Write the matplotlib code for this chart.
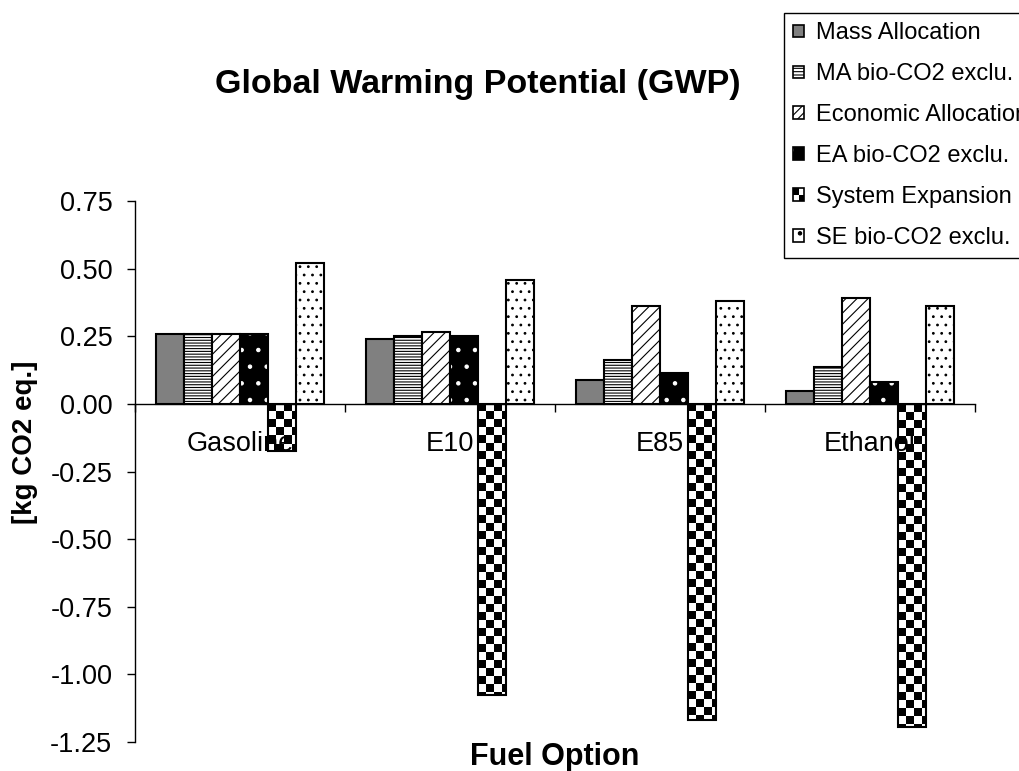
import numpy as np
import matplotlib
matplotlib.use('Agg')
import matplotlib.pyplot as plt
from matplotlib.patches import Patch, Rectangle
from matplotlib.legend_handler import HandlerBase

plt.rcParams['font.family'] = ['Liberation Sans', 'DejaVu Sans']
plt.rcParams['hatch.linewidth'] = 0.8

fuels = ['Gasoline', 'E10', 'E85', 'Ethanol']
mass_alloc = [0.257, 0.240, 0.089, 0.049]
ma_bio = [0.257, 0.250, 0.163, 0.138]
econ_alloc = [0.257, 0.265, 0.360, 0.390]
ea_bio = [0.257, 0.250, 0.113, 0.082]
sys_exp = [-0.175, -1.076, -1.170, -1.194]
se_bio = [0.520, 0.458, 0.382, 0.362]

labels = ['Mass Allocation', 'MA bio-CO2 exclu.', 'Economic Allocation',
          'EA bio-CO2 exclu.', 'System Expansion', 'SE bio-CO2 exclu.']

fig = plt.figure(figsize=(10.2, 7.71), dpi=100)
ax = fig.add_axes([135/1020, 29/771, 840/1020, 541/771])

x = np.arange(len(fuels))
w = 1 / 7.5
off = lambda i: (i - 2.5) * w
lw = 1.5

ax.bar(x + off(0), mass_alloc, w, color='#808080', edgecolor='black', linewidth=lw)
ax.bar(x + off(1), ma_bio, w, color='white', edgecolor='black', linewidth=lw, hatch='------')
ax.bar(x + off(2), econ_alloc, w, color='white', edgecolor='black', linewidth=lw, hatch='///')
# black bars with white dots, border drawn on top
ax.bar(x + off(3), ea_bio, w, color='black', edgecolor='white', linewidth=0, hatch='.')
ax.bar(x + off(3), ea_bio, w, fill=False, edgecolor='black', linewidth=lw)
se_bars = ax.bar(x + off(4), sys_exp, w, color='white', edgecolor='black', linewidth=lw, zorder=2.2)
ax.bar(x + off(5), se_bio, w, color='white', edgecolor='black', linewidth=lw, hatch='..')

ax.set_xlim(-0.5, 3.5)
ax.set_ylim(-1.25, 0.75)

# checkerboard fill for the system expansion bars
cell = 8.0
xpp = 4.0 / 840
ypp = 2.0 / 541
for b in se_bars:
    bx, by = b.get_x(), b.get_y()
    bw, bh = b.get_width(), b.get_height()
    top = max(by, by + bh)
    nx = int(np.ceil(bw / xpp / cell))
    ny = int(np.ceil(abs(bh) / ypp / cell))
    board = (np.add.outer(np.arange(ny), np.arange(nx)) % 2).astype(float)
    im = ax.imshow(board, cmap='gray', vmin=0, vmax=1, interpolation='nearest',
                   extent=(bx, bx + nx * cell * xpp, top - ny * cell * ypp, top),
                   aspect='auto', zorder=2)
    im.set_clip_path(b)
    b.set_facecolor('none')

ax.set_xlim(-0.5, 3.5)
ax.set_ylim(-1.25, 0.75)

for s in ['top', 'right']:
    ax.spines[s].set_visible(False)
ax.spines['bottom'].set_position(('data', 0))
ax.spines['bottom'].set_linewidth(1)
ax.spines['left'].set_linewidth(1)

yt = np.arange(-1.25, 0.76, 0.25)
ax.set_yticks(yt)
ax.set_yticklabels(['%.2f' % v for v in yt], fontsize=19.5)
ax.tick_params(axis='y', direction='out', length=5.8, width=1, pad=10.5)

ax.set_xticks(x)
ax.set_xticklabels(fuels, fontsize=19.5)
ax.set_xticks(np.arange(-0.5, 3.6, 1), minor=True)
ax.tick_params(axis='x', which='major', length=0, pad=19.5)
ax.tick_params(axis='x', which='minor', direction='out', length=5.8, width=1)
# category names sit over the bars
ax.xaxis.set_zorder(3)

fig.text(478/1020, 1 - 85/771, 'Global Warming Potential (GWP)', fontsize=24.5,
         fontweight='bold', ha='center', va='center')
fig.text(25/1020, 1 - 442/771, '[kg CO2 eq.]', fontsize=20, fontweight='bold',
         rotation=90, ha='center', va='center')
fig.text(555/1020, 1 - 757/771, 'Fuel Option', fontsize=22, fontweight='bold',
         ha='center', va='center')


class CheckerHandler(HandlerBase):
    def create_artists(self, legend, orig_handle, xdescent, ydescent,
                       width, height, fontsize, trans):
        hw, hh = width / 2, height / 2
        arts = []
        for i in range(2):
            for j in range(2):
                fc = 'black' if (i + j) % 2 == 1 else 'white'
                arts.append(Rectangle((-xdescent + i * hw, -ydescent + j * hh), hw, hh,
                                      facecolor=fc, edgecolor='none', transform=trans))
        arts.append(Rectangle((-xdescent, -ydescent), width, height, facecolor='none',
                              edgecolor='black', linewidth=1.2, transform=trans))
        return arts


class CheckerKey:
    pass


handles = [
    Patch(facecolor='#808080', edgecolor='black', linewidth=1.2),
    Patch(facecolor='white', edgecolor='black', linewidth=1.2, hatch='-----'),
    Patch(facecolor='white', edgecolor='black', linewidth=1.2, hatch='////'),
    (Patch(facecolor='black', edgecolor='white', linewidth=0, hatch='.'),
     Patch(fill=False, edgecolor='black', linewidth=1.2)),
    CheckerKey(),
    Patch(facecolor='white', edgecolor='black', linewidth=1.2, hatch='.'),
]

leg = fig.legend(handles, labels, loc='upper left',
                 bbox_to_anchor=(784/1020, 1 - 13/771), borderaxespad=0,
                 fontsize=17, frameon=True, fancybox=False, framealpha=1,
                 edgecolor='black', handlelength=0.45, handleheight=0.45,
                 handletextpad=0.5, labelspacing=0.8, borderpad=0.4,
                 handler_map={CheckerKey: CheckerHandler()})
leg.get_frame().set_linewidth(1)

fig.savefig('out.png', dpi=100)
